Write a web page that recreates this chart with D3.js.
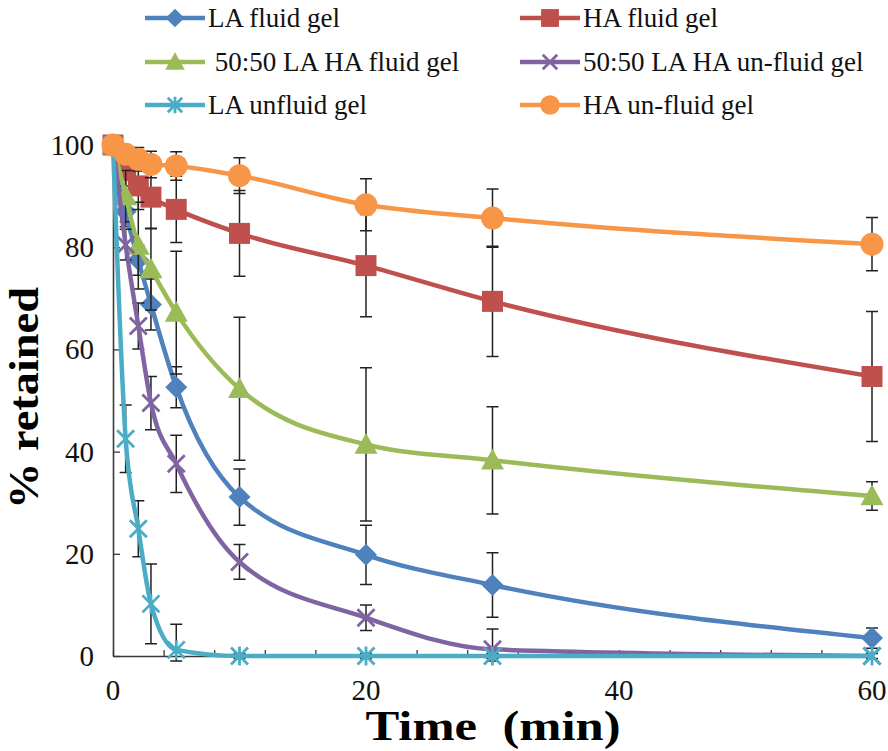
<!DOCTYPE html>
<html><head><meta charset="utf-8">
<script src="https://cdn.jsdelivr.net/npm/d3@7"></script>
<style>html,body{margin:0;padding:0;background:#fff}</style>
</head><body>
<svg id="c" width="888" height="751"></svg>
<script>
const times = [0, 1, 2, 3, 5, 10, 20, 30, 60];
const seriesNames = ["LA fluid gel", "HA fluid gel", " 50:50 LA HA fluid gel", "50:50 LA HA un-fluid gel", "LA unfluid gel", "HA un-fluid gel"];
const laFluid      = [100, 87, 77.5, 68.8, 52.6, 31.1, 19.8, 13.9, 3.5];
const laFluidErr   = [0, 3, 3, 5, 4, 5.5, 5.8, 6.3, 2];
const haFluid      = [100, 95, 92, 89.8, 87.4, 82.7, 76.4, 69.4, 54.7];
const haFluidErr   = [0, 3, 4.6, 6.2, 6.5, 8.4, 10, 10.8, 12.7];
const mixFluid     = [100, 90, 80.3, 75.7, 67.2, 52.3, 41.4, 38.3, 31.3];
const mixFluidErr  = [0, 5, 8.5, 8, 12, 14, 15, 10.5, 2.8];
const mixUnfluid   = [100, 80.5, 64.6, 49.5, 37.6, 18.4, 7.5, 1.3, 0];
const mixUnfluidErr= [0, 3, 4.5, 5.2, 5.6, 3.4, 2.5, 4, 0];
const laUnfluid    = [100, 42.5, 24.9, 10.2, 1.2, 0, 0, 0, 0];
const laUnfluidErr = [0, 6.6, 5.5, 7.8, 5, 0.5, 0.5, 0.5, 0.5];
const haUnfluid    = [100, 98.2, 97.2, 96.2, 95.9, 94, 88.3, 85.7, 80.6];
const haUnfluidErr = [0, 1.5, 2.3, 2.6, 2.8, 3.5, 5.1, 5.7, 5.2];
const xTickLabels = [0, 20, 40, 60];
const yTickLabels = [0, 20, 40, 60, 80, 100];
const colors = ["#4F81BD", "#C0504D", "#9BBB59", "#8064A2", "#4BACC6", "#F79646"];
const markers = ["diamond", "square", "triangle", "x", "asterisk", "circle"];
const values = [laFluid, haFluid, mixFluid, mixUnfluid, laUnfluid, haUnfluid];
const errs = [laFluidErr, haFluidErr, mixFluidErr, mixUnfluidErr, laUnfluidErr, haUnfluidErr];

const FONT = '"Liberation Serif", "Times New Roman", Tinos, serif';
const svg = d3.select("#c");
const x = d3.scaleLinear().domain([0, 60]).range([113, 872]);
const y = d3.scaleLinear().domain([0, 100]).range([656, 145]);
const axisCol = "#3a3a3a";

// axes
const gx = svg.append("g").attr("transform", `translate(0,${y(0)})`)
  .call(d3.axisBottom(x).tickValues(d3.range(0, 61, 4)).tickSizeInner(-6).tickSizeOuter(0).tickFormat(""));
gx.select(".domain").attr("stroke", axisCol).attr("stroke-width", 1.6);
gx.selectAll(".tick line").attr("stroke", axisCol).attr("stroke-width", 1.3);
const gy = svg.append("g").attr("transform", `translate(${x(0)},0)`)
  .call(d3.axisLeft(y).tickValues(yTickLabels).tickSizeInner(-7).tickSizeOuter(0).tickFormat(""));
gy.select(".domain").attr("stroke", axisCol).attr("stroke-width", 1.6);
gy.selectAll(".tick line").attr("stroke", axisCol).attr("stroke-width", 1.3);

svg.append("g").selectAll("text").data(xTickLabels).join("text")
  .attr("x", d => x(d)).attr("y", 700).attr("text-anchor", "middle").style("font-family", FONT)
  .attr("font-size", 29).attr("fill", "#111").text(d => d);
svg.append("g").selectAll("text").data(yTickLabels).join("text")
  .attr("x", 94).attr("y", d => y(d) + 10).attr("text-anchor", "end").style("font-family", FONT)
  .attr("font-size", 29).attr("fill", "#111").text(d => d);

svg.append("text").attr("x", 493).attr("y", 740).attr("text-anchor", "middle").style("font-family", FONT)
  .attr("font-weight", "bold").attr("font-size", 42)
  .attr("textLength", 255).attr("lengthAdjust", "spacingAndGlyphs")
  .style("white-space", "pre").text("Time  (min)");
svg.append("text").attr("transform", "translate(38,398) rotate(-90)").attr("text-anchor", "middle").style("font-family", FONT)
  .attr("font-weight", "bold").attr("font-size", 42)
  .attr("textLength", 222).attr("lengthAdjust", "spacingAndGlyphs")
  .text("% retained");

function drawMarker(g, type, cx, cy, col, s) {
  s = s || 1;
  if (type === "diamond") {
    const r = 11 * s;
    g.append("path").attr("d", `M${cx},${cy - r}L${cx + r},${cy}L${cx},${cy + r}L${cx - r},${cy}Z`).attr("fill", col);
  } else if (type === "square") {
    const r = 10.5 * s;
    g.append("rect").attr("x", cx - r).attr("y", cy - r).attr("width", 2 * r).attr("height", 2 * r).attr("fill", col);
  } else if (type === "triangle") {
    const r = 11.5 * s;
    g.append("path").attr("d", `M${cx},${cy - r}L${cx + r},${cy + r * 0.8}L${cx - r},${cy + r * 0.8}Z`).attr("fill", col);
  } else if (type === "circle") {
    g.append("circle").attr("cx", cx).attr("cy", cy).attr("r", 11.5 * s).attr("fill", col);
  } else if (type === "x") {
    const r = 8.5 * s;
    g.append("path").attr("d", `M${cx - r},${cy - r}L${cx + r},${cy + r}M${cx - r},${cy + r}L${cx + r},${cy - r}`)
      .attr("stroke", col).attr("stroke-width", 2.8).attr("fill", "none");
  } else if (type === "asterisk") {
    const r = 8.5 * s;
    g.append("path").attr("d", `M${cx - r},${cy - r}L${cx + r},${cy + r}M${cx - r},${cy + r}L${cx + r},${cy - r}M${cx},${cy - r - 1}L${cx},${cy + r + 1}`)
      .attr("stroke", col).attr("stroke-width", 2.8).attr("fill", "none");
  }
}

const line = d3.line().x(d => x(d[0])).y(d => y(d[1])).curve(d3.curveMonotoneX);
const plot = svg.append("g");
values.forEach((vals, i) => {
  const g = plot.append("g");
  const pts = times.map((t, k) => [t, vals[k], errs[i][k]]);
  pts.forEach(p => {
    if (p[2] <= 0) return;
    const lo = y(Math.max(p[1] - p[2], -1)), hi = y(p[1] + p[2]), cx = x(p[0]);
    g.append("path").attr("d", `M${cx},${lo}L${cx},${hi}M${cx - 6},${lo}L${cx + 6},${lo}M${cx - 6},${hi}L${cx + 6},${hi}`)
      .attr("stroke", "#222").attr("stroke-width", 1.5).attr("fill", "none");
  });
  g.append("path").datum(pts).attr("d", line).attr("fill", "none")
    .attr("stroke", colors[i]).attr("stroke-width", 4.5);
  pts.forEach(p => drawMarker(g, markers[i], x(p[0]), y(p[1]), colors[i]));
});

// legend
const legX = [145, 520], legY = [18, 62, 105];
seriesNames.forEach((name, i) => {
  const col = i % 2, row = Math.floor(i / 2);
  const lx = legX[col], ly = legY[row];
  const g = svg.append("g");
  g.append("line").attr("x1", lx).attr("x2", lx + 60).attr("y1", ly).attr("y2", ly)
    .attr("stroke", colors[i]).attr("stroke-width", 4.5);
  drawMarker(g, markers[i], lx + 30, ly, colors[i], 0.85);
  g.append("text").attr("x", lx + 63).attr("y", ly + 9).style("font-family", FONT)
    .attr("font-size", 27).attr("fill", "#111").style("white-space", "pre").text(name);
});
</script>
</body></html>
